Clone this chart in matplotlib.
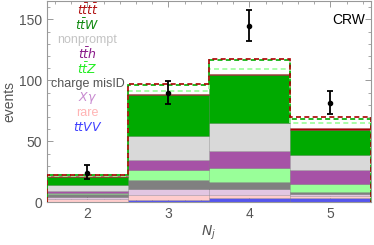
import matplotlib
matplotlib.use("Agg")
import matplotlib.pyplot as plt
import numpy as np
from matplotlib.ticker import MultipleLocator

# jet multiplicity bins
n_jets = [2, 3, 4, 5]

# stacked backgrounds, bottom to top
ttVV = [0.6, 2.0, 3.4, 3.4]
rare = [2.5, 4.1, 2.7, 1.9]
x_gamma = [1.6, 4.7, 4.9, 1.6]
charge_misid = [2.2, 7.6, 5.8, 1.7]
ttZ = [1.1, 8.2, 11.2, 6.5]
tth = [1.6, 7.9, 14.3, 11.5]
nonprompt = [4.7, 19.9, 22.4, 12.2]
ttW = [6.3, 33.5, 39.5, 20.7]
tttt = [0.8, 1.2, 1.4, 1.8]

# alternative totals (dashed outlines)
total_alt_red = [22.9, 96.9, 117.9, 69.6]
total_alt_green = [22.4, 96.0, 116.5, 68.7]
total_alt_light = [21.7, 91.4, 109.1, 64.7]

# observed data with error bar ends
data = [24.4, 89.5, 144.3, 81.5]
data_lo = [19.6, 80.5, 132.0, 72.3]
data_hi = [31.0, 99.7, 157.3, 91.5]

layers = [
    ("$ttVV$", ttVV, "#5555ee", "#4040ff"),
    ("rare", rare, "#ffcccc", "#ffb4b4"),
    ("$X\\gamma$", x_gamma, "#e2c6e2", "#c88ad0"),
    ("charge misID", charge_misid, "#808080", "#555555"),
    ("$t\\bar{t}Z$", ttZ, "#99ff99", "#22ee22"),
    ("$t\\bar{t}h$", tth, "#a652a6", "#8a1a8a"),
    ("nonprompt", nonprompt, "#d9d9d9", "#c4c4c4"),
    ("$t\\bar{t}W$", ttW, "#00aa00", "#108a10"),
    ("$t\\bar{t}t\\bar{t}$", tttt, "#aa0000", "#b01010"),
]

plt.rcParams["font.family"] = ["Liberation Sans", "DejaVu Sans"]
plt.rcParams["mathtext.fontset"] = "dejavusans"

fig = plt.figure(figsize=(3.74, 2.45), dpi=100)
ax = fig.add_axes([0.1257, 0.1735, 0.866, 0.8225])

x = np.array(n_jets, dtype=float)
bottom = np.zeros(len(x))
for name, vals, fc, tc in layers:
    vals = np.asarray(vals, dtype=float)
    ax.bar(x, vals, width=1.0, bottom=bottom, color=fc,
           edgecolor=(0, 0, 0, 0.18), linewidth=0.5, zorder=2)
    bottom += vals

edges = np.append(x - 0.5, x[-1] + 0.5)
ax.stairs(total_alt_light, edges, baseline=0, color="#99ff99",
          linestyle=(0, (3, 2)), linewidth=1.2, zorder=3)
ax.stairs(total_alt_green, edges, baseline=0, color="#00aa00",
          linestyle=(2.5, (3, 2)), linewidth=1.2, zorder=3)
ax.stairs(total_alt_red, edges, baseline=0, color="#aa0000",
          linestyle=(0, (3, 2)), linewidth=1.2, zorder=4)

data = np.asarray(data)
yerr = [data - np.asarray(data_lo), np.asarray(data_hi) - data]
ax.errorbar(x, data, yerr=yerr, fmt="o", color="black", ms=3,
            capsize=2.5, elinewidth=1.3, capthick=1.3, zorder=5)

# colored legend text
for i, (name, vals, fc, tc) in enumerate(reversed(layers)):
    ax.text(2.0, 157.4 - i * 12.04, name, color=tc, fontsize=9,
            ha="center", va="center", zorder=6)

ax.text(0.93, 0.905, "CRW", transform=ax.transAxes, fontsize=10,
        ha="center", va="center", color="black")

ax.set_xlim(1.5, 5.5)
ax.set_ylim(0, 165)
ax.set_xticks(n_jets)
ax.set_yticks([0, 50, 100, 150])
ax.xaxis.set_minor_locator(MultipleLocator(0.2))
ax.yaxis.set_minor_locator(MultipleLocator(10))
ax.tick_params(which="both", direction="in", top=True, right=True,
               color="#999999", labelcolor="#555555", labelsize=10,
               labeltop=False, labelright=False)
ax.tick_params(which="major", length=4, width=0.7)
ax.tick_params(which="minor", length=2, width=0.6)
for s in ax.spines.values():
    s.set_color("#999999")
    s.set_linewidth(0.8)

ax.set_xlabel("$N_j$", color="#555555", fontsize=10, labelpad=2)
ax.set_ylabel("events", color="#555555", fontsize=10, labelpad=2)

fig.savefig("out.png", dpi=100)
